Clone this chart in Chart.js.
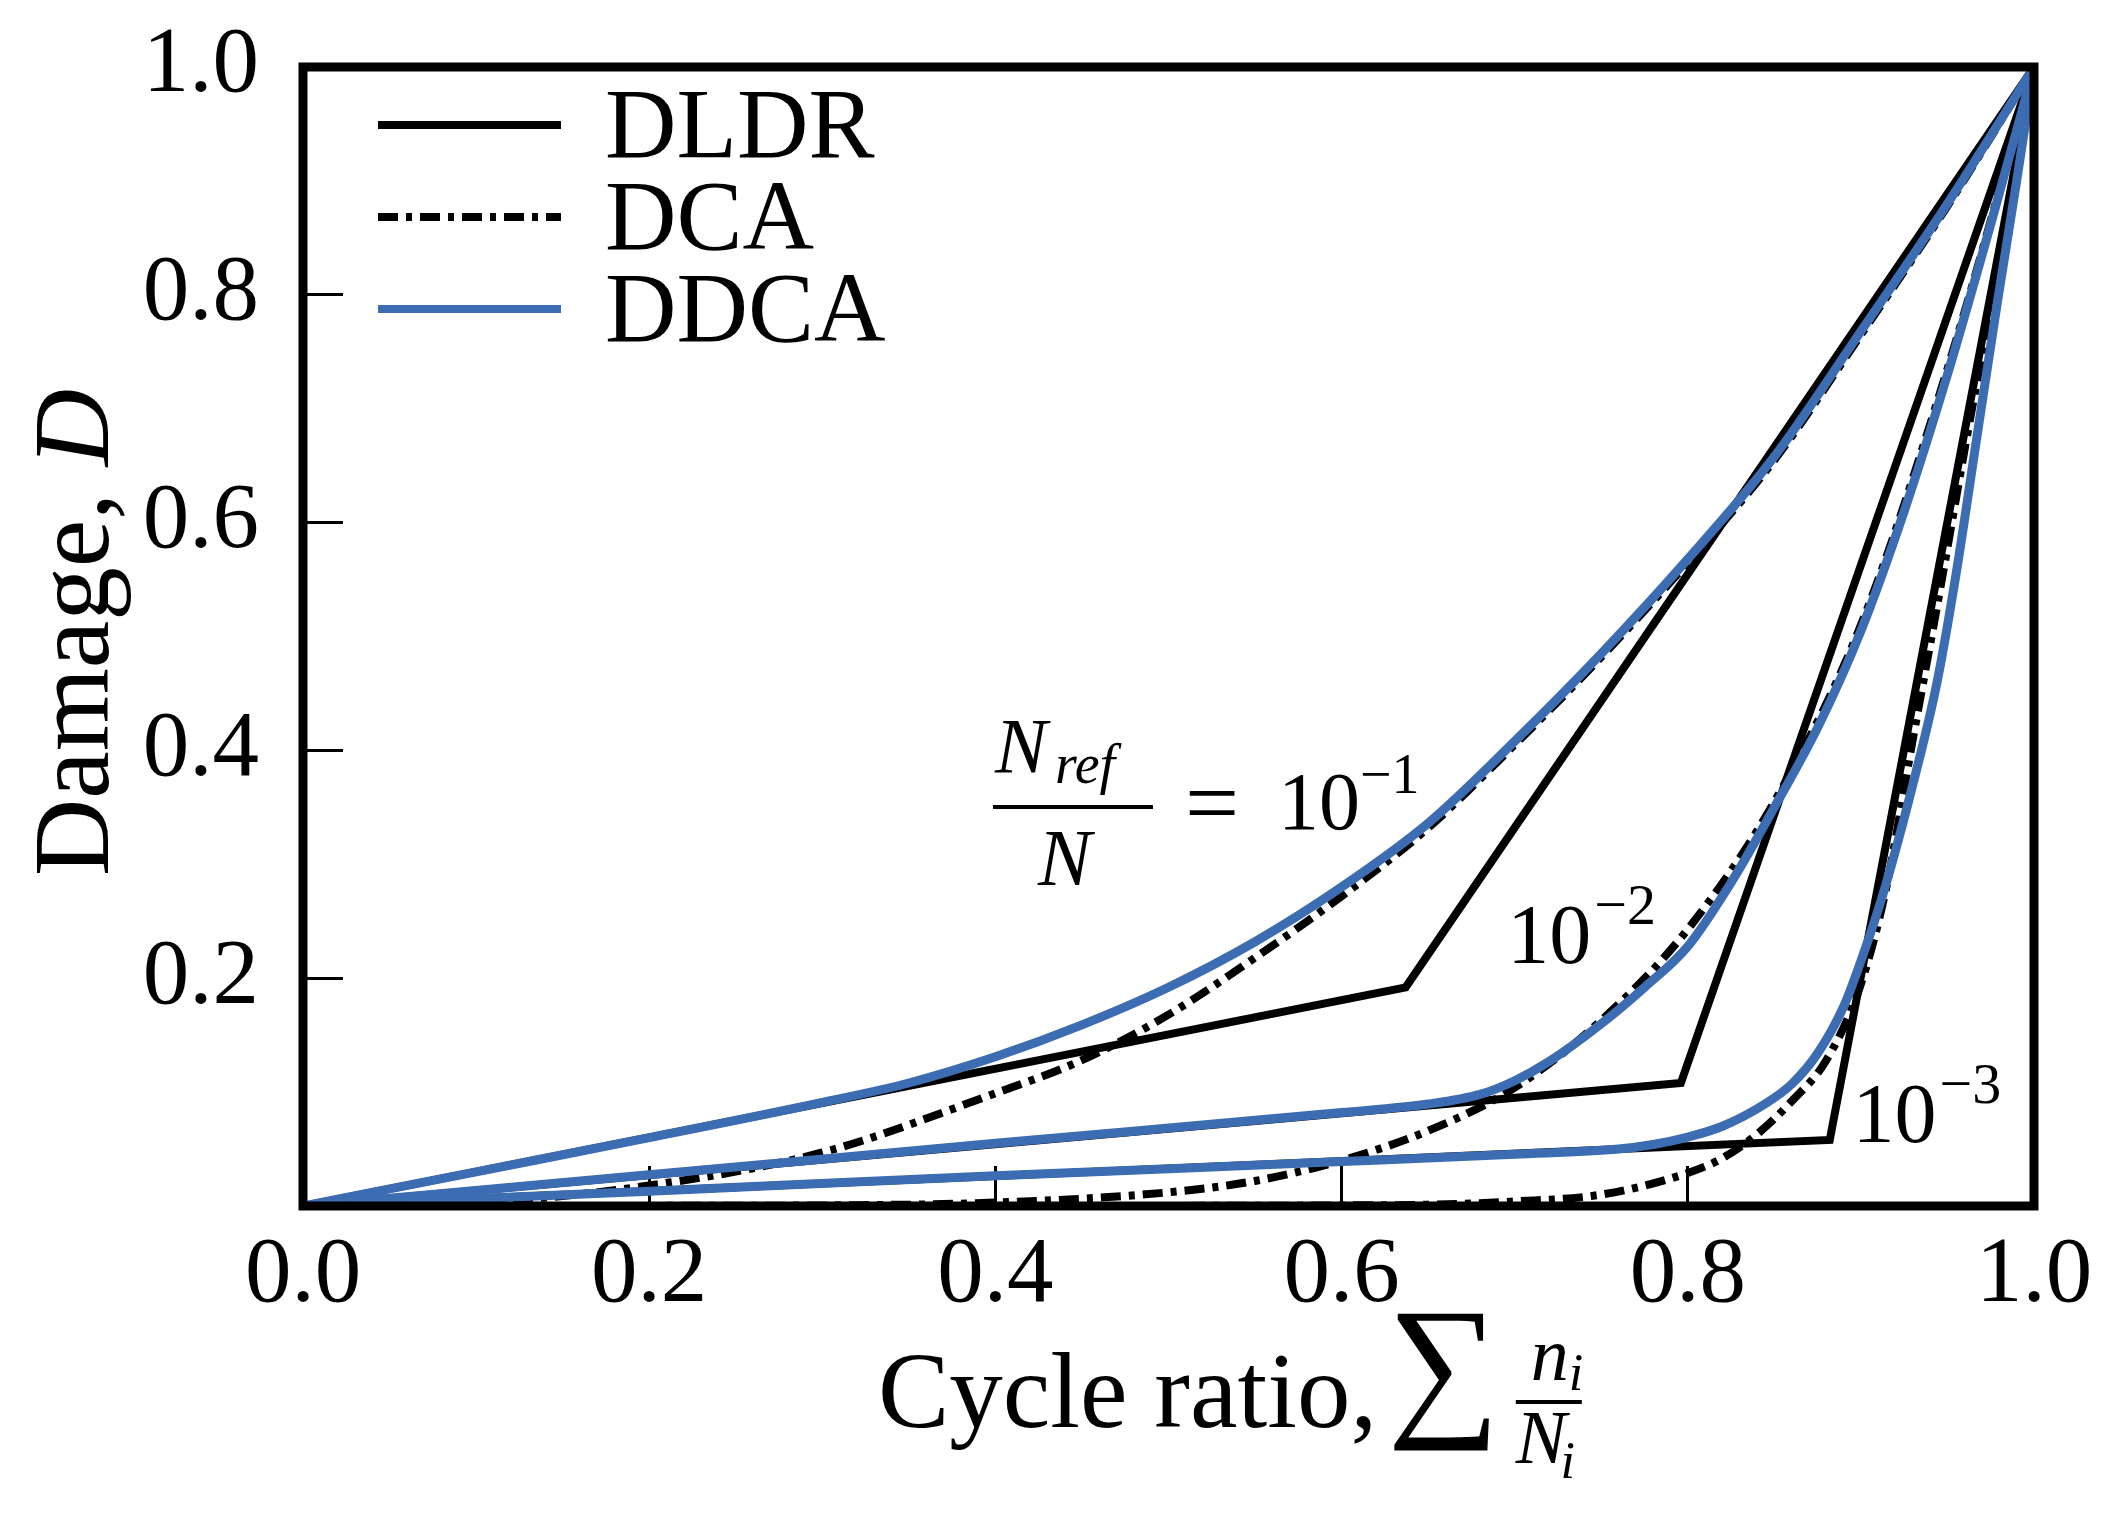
<!DOCTYPE html>
<html>
<head>
<meta charset="utf-8">
<script src="https://cdn.jsdelivr.net/npm/chart.js@4.4.1/dist/chart.umd.min.js"></script>
<style>
  html, body { margin: 0; padding: 0; background: #fff; }
  #wrap { width: 2112px; height: 1516px; }
</style>
</head>
<body>
<div id="wrap"><canvas id="myChart"></canvas></div>
<script>
// values (cycle ratio -> damage D)
// DLDR: two straight segments per load ratio
const dldr1X = [0, 0.637, 1];
const dldr1Y = [0, 0.192, 1];
const dldr2X = [0, 0.796, 1];
const dldr2Y = [0, 0.108, 1];
const dldr3X = [0, 0.882, 1];
const dldr3Y = [0, 0.058, 1];

// DCA curves
const dca1X = [0, 0.1, 0.2, 0.3, 0.4, 0.45, 0.5, 0.55, 0.6, 0.65, 0.7, 0.75, 0.8, 0.85, 0.9, 0.95, 1];
const dca1Y = [0, 0.003, 0.018, 0.047, 0.099, 0.128, 0.168, 0.218, 0.272, 0.332, 0.405, 0.482, 0.565, 0.655, 0.765, 0.878, 1];
const dca2X = [0, 0.2, 0.3, 0.4, 0.5, 0.55, 0.6, 0.65, 0.7, 0.75, 0.8, 0.85, 0.9, 0.95, 1];
const dca2Y = [0, 0.0001, 0.0005, 0.003, 0.012, 0.022, 0.040, 0.066, 0.104, 0.163, 0.243, 0.355, 0.510, 0.735, 1];
const dca3X = [0, 0.5, 0.6, 0.65, 0.7, 0.75, 0.8, 0.82, 0.84, 0.86, 0.88, 0.9, 0.915, 0.93, 0.945, 0.96, 0.975, 0.99, 1];
const dca3Y = [0, 0.0001, 0.0005, 0.0012, 0.004, 0.010, 0.029, 0.042, 0.063, 0.092, 0.128, 0.195, 0.282, 0.41, 0.535, 0.665, 0.79, 0.915, 1];

// DDCA curves
const ddca1X = [0, 0.1, 0.2, 0.3, 0.35, 0.4, 0.45, 0.5, 0.55, 0.6, 0.65, 0.7, 0.75, 0.8, 0.85, 0.9, 0.95, 1];
const ddca1Y = [0, 0.030, 0.060, 0.091, 0.108, 0.131, 0.159, 0.192, 0.232, 0.280, 0.336, 0.408, 0.485, 0.568, 0.658, 0.768, 0.880, 1];
const ddca2X = [0, 0.2, 0.4, 0.6, 0.65, 0.68, 0.7, 0.72, 0.75, 0.775, 0.8, 0.825, 0.85, 0.875, 0.9, 0.925, 0.95, 0.975, 1];
const ddca2Y = [0, 0.0274, 0.055, 0.082, 0.0895, 0.098, 0.110, 0.127, 0.160, 0.192, 0.228, 0.284, 0.35, 0.42, 0.505, 0.61, 0.73, 0.862, 1];
const ddca3X = [0, 0.2, 0.4, 0.6, 0.7, 0.76, 0.78, 0.8, 0.82, 0.845, 0.86, 0.875, 0.89, 0.9, 0.913, 0.93, 0.944, 0.955, 0.967, 0.979, 0.99, 1];
const ddca3Y = [0, 0.013, 0.0265, 0.039, 0.0455, 0.05, 0.054, 0.0605, 0.07, 0.09, 0.107, 0.134, 0.175, 0.215, 0.275, 0.37, 0.46, 0.555, 0.675, 0.795, 0.9, 1];

const legendLabels = ['DLDR', 'DCA', 'DDCA'];
const xTicks = [0, 0.2, 0.4, 0.6, 0.8, 1.0];

const serif = '"Liberation Serif", "DejaVu Serif", serif';
const blue = '#3c6cb1';

function pts(xs, ys) {
  return xs.map((x, i) => ({ x: x, y: ys[i] }));
}

function dldr(xs, ys) {
  return { label: 'DLDR', data: pts(xs, ys), borderColor: '#000', borderWidth: 8,
    tension: 0, order: 3 };
}
function dca(xs, ys) {
  return { label: 'DCA', data: pts(xs, ys), borderColor: '#000', borderWidth: 8,
    borderDash: [20, 8, 6, 8], cubicInterpolationMode: 'monotone', order: 2 };
}
function ddca(xs, ys) {
  return { label: 'DDCA', data: pts(xs, ys), borderColor: blue, borderWidth: 9,
    cubicInterpolationMode: 'monotone', order: 1 };
}

// labels may hang outside the plot, so keep the scales from padding for them
function noPad(s) {
  s.paddingTop = 0; s.paddingBottom = 0; s.paddingLeft = 0; s.paddingRight = 0;
}

// legend in the upper left corner of the plot
const cornerLegend = {
  id: 'cornerLegend',
  afterDatasetsDraw(chart) {
    const { ctx, chartArea } = chart;
    legendLabels.forEach((name, i) => {
      const ds = chart.data.datasets.find(d => d.label === name);
      const y = chartArea.top + 58 + i * 92;
      ctx.save();
      ctx.strokeStyle = ds.borderColor;
      ctx.lineWidth = 8;
      ctx.setLineDash(ds.borderDash || []);
      ctx.beginPath();
      ctx.moveTo(chartArea.left + 75, y);
      ctx.lineTo(chartArea.left + 258, y);
      ctx.stroke();
      ctx.setLineDash([]);
      ctx.fillStyle = '#000';
      ctx.font = '99px ' + serif;
      ctx.textBaseline = 'alphabetic';
      ctx.fillText(name, chartArea.left + 302, y + 32);
      ctx.restore();
    });
  }
};

// thick box round the plot
const frame = {
  id: 'frame',
  afterDatasetsDraw(chart) {
    const { ctx, chartArea: a } = chart;
    ctx.save();
    ctx.strokeStyle = '#000';
    ctx.lineWidth = 9;
    ctx.strokeRect(a.left, a.top, a.right - a.left, a.bottom - a.top);
    ctx.restore();
  }
};

// axis titles and ratio labels, with the maths set by hand
const mathText = {
  id: 'mathText',
  afterDraw(chart) {
    const { ctx, chartArea: a } = chart;
    const sx = chart.scales.x, sy = chart.scales.y;
    ctx.save();
    ctx.fillStyle = '#000';
    ctx.textBaseline = 'alphabetic';
    ctx.textAlign = 'left';

    // y title: Damage, D
    ctx.save();
    ctx.translate(a.left - 195, (a.top + a.bottom) / 2 - 4);
    ctx.rotate(-Math.PI / 2);
    ctx.font = '107px ' + serif;
    const w1 = ctx.measureText('Damage, ').width;
    ctx.font = 'italic 107px ' + serif;
    const w2 = ctx.measureText('D').width;
    let x = -(w1 + w2) / 2;
    ctx.font = '107px ' + serif;
    ctx.fillText('Damage, ', x, 0);
    ctx.font = 'italic 107px ' + serif;
    ctx.fillText('D', x + w1, 0);
    ctx.restore();

    // x title: Cycle ratio, sum n_i / N_i
    const base = a.bottom + 221;
    let cx = a.left + 575;
    ctx.font = '107px ' + serif;
    ctx.fillText('Cycle ratio,', cx, base);
    cx += ctx.measureText('Cycle ratio,').width + 10;
    ctx.font = '158px ' + serif;
    ctx.fillText('\u2211', cx, base - 10);
    cx += ctx.measureText('\u2211').width + 16;
    ctx.fillRect(cx, base - 27, 66, 4);
    ctx.font = 'italic 76px ' + serif;
    ctx.fillText('n', cx + 15, base - 47);
    let nw = ctx.measureText('n').width;
    ctx.font = 'italic 52px ' + serif;
    ctx.fillText('i', cx + 15 + nw, base - 37);
    ctx.font = 'italic 76px ' + serif;
    ctx.fillText('N', cx, base + 36);
    nw = ctx.measureText('N').width;
    ctx.font = 'italic 52px ' + serif;
    ctx.fillText('i', cx + nw - 6, base + 51);

    // N_ref / N = 10^-1
    const bx = sx.getPixelForValue(0.3986), by = sy.getPixelForValue(0.3503);
    ctx.font = 'italic 78px ' + serif;
    ctx.fillText('N', bx + 2, by - 35);
    ctx.font = 'italic 56px ' + serif;
    ctx.fillText('ref', bx + 62, by - 24);
    ctx.fillRect(bx, by - 2, 160, 4);
    ctx.font = 'italic 80px ' + serif;
    ctx.fillText('N', bx + 45, by + 78);
    ctx.font = '96px ' + serif;
    ctx.fillText('=', bx + 192, by + 28);
    ctx.font = '82px ' + serif;
    ctx.fillText('10', bx + 285, by + 22);
    ctx.font = '56px ' + serif;
    ctx.fillText('\u22121', bx + 367, by - 14);

    // 10^-2 and 10^-3
    const lab2 = { x: sx.getPixelForValue(0.6957), y: sy.getPixelForValue(0.2134) };
    const lab3 = { x: sx.getPixelForValue(0.8951), y: sy.getPixelForValue(0.0562) };
    [[lab2, '\u22122'], [lab3, '\u22123']].forEach(([p, sup]) => {
      ctx.font = '84px ' + serif;
      ctx.fillText('10', p.x, p.y);
      ctx.font = '58px ' + serif;
      ctx.fillText(sup, p.x + 87, p.y - 39);
    });
    ctx.restore();
  }
};

const ctx = document.getElementById('myChart');

new Chart(ctx, {
  type: 'scatter',
  data: {
    datasets: [
      dldr(dldr1X, dldr1Y), dldr(dldr2X, dldr2Y), dldr(dldr3X, dldr3Y),
      dca(dca1X, dca1Y), dca(dca2X, dca2Y), dca(dca3X, dca3Y),
      ddca(ddca1X, ddca1Y), ddca(ddca2X, ddca2Y), ddca(ddca3X, ddca3Y)
    ]
  },
  options: {
    responsive: true,
    maintainAspectRatio: false,
    devicePixelRatio: 1,
    animation: false,
    showLine: true,
    elements: { point: { radius: 0, hoverRadius: 0 } },
    layout: { padding: { top: 67, right: 78, left: 0, bottom: 0 } },
    plugins: { legend: { display: false }, tooltip: { enabled: false } },
    scales: {
      x: {
        type: 'linear', min: 0, max: 1,
        afterFit: s => { s.height = 310; noPad(s); },
        afterBuildTicks: s => { s.ticks = xTicks.map(v => ({ value: v })); },
        border: { display: false },
        grid: { drawOnChartArea: false, drawTicks: true, tickLength: -40, tickWidth: 3, tickColor: '#000' },
        ticks: { padding: 55, color: '#000', font: { family: serif, size: 93 },
          maxRotation: 0, callback: v => v.toFixed(1) }
      },
      y: {
        type: 'linear', min: 0, max: 1,
        afterFit: s => { s.width = 303; noPad(s); },
        border: { display: false },
        grid: { drawOnChartArea: false, drawTicks: true, tickLength: -40, tickWidth: 3, tickColor: '#000' },
        ticks: { stepSize: 0.2, padding: 84, color: '#000', font: { family: serif, size: 93 },
          callback: v => (v === 0 ? '' : v.toFixed(1)) }
      }
    }
  },
  plugins: [cornerLegend, frame, mathText]
});
</script>
</body>
</html>
